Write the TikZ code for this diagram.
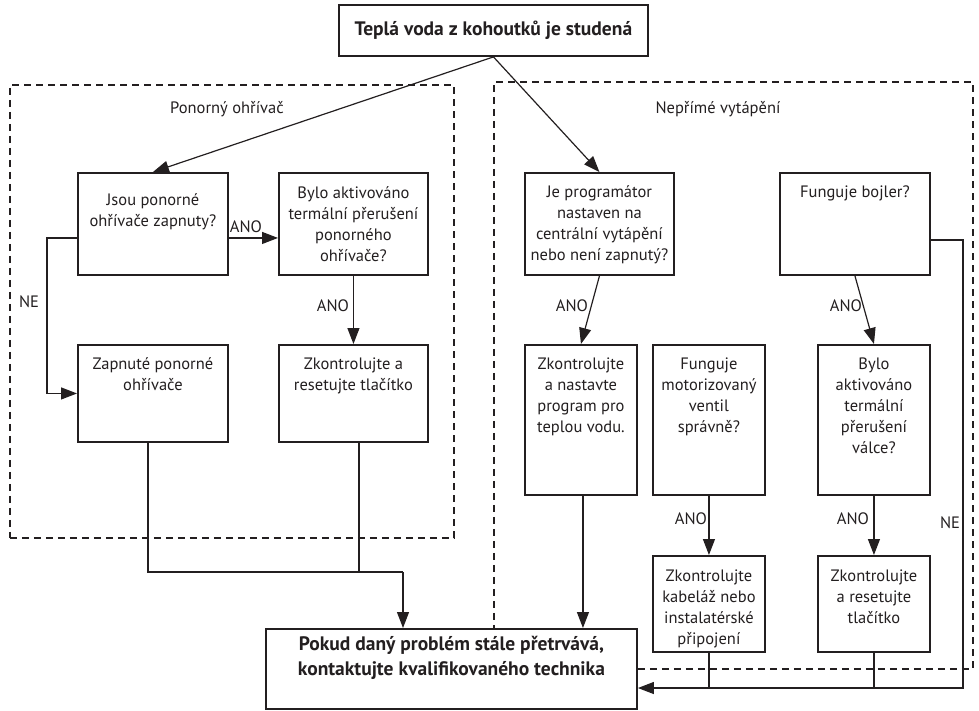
\documentclass[tikz,border=0pt]{standalone}
\usepackage{fontspec}
\setmainfont{PT Sans}
\usetikzlibrary{arrows.meta}
\definecolor{ink}{HTML}{231F20}
\newcommand\regfont{\fontsize{16.5}{21}\selectfont}
\newcommand\headfont{\fontsize{19.5}{25}\selectfont\bfseries}
\newcommand\boxlead{\rule{0pt}{14pt}}
\newcommand\headlead{\rule{0pt}{17pt}}
\begin{document}
\begin{tikzpicture}[x=1pt,y=-1pt,
  every node/.style={text=ink},
  box/.style={draw=ink, line width=1.9pt, fill=white, inner sep=0pt, anchor=north west},
  group/.style={draw=ink, line width=1.7pt, dash pattern=on 7pt off 5pt, inner sep=0pt, anchor=north west},
  txt/.style={anchor=north, inner sep=0pt, align=center, font=\regfont},
  lbl/.style={anchor=base, inner sep=0pt, font=\regfont},
  line/.style={draw=ink, line width=1.2pt},
  arr/.style={line, -{Triangle[length=16pt,width=12pt]}}
]
\useasboundingbox (0,0) rectangle (979,710);

% dashed groups
\node[group, minimum width=444pt, minimum height=453pt] (gL) at (9,84) {};
\node[group, minimum width=479pt, minimum height=587pt] (gR) at (493,81) {};
\node[lbl] (gLt) at (227,113) {Ponorný ohřívač};
\node[lbl] (gRt) at (718,113) {Nepřímé vytápění};

% boxes
\node[box, minimum width=309pt, minimum height=51pt, font=\headfont] (T) at (338,4) {Teplá voda z kohoutků je studená};
\node[box, minimum width=150pt, minimum height=102pt] (A) at (77,172) {};
\node[box, minimum width=149pt, minimum height=102pt] (B) at (278,172) {};
\node[box, minimum width=150pt, minimum height=97pt] (C) at (77,344) {};
\node[box, minimum width=149pt, minimum height=97pt] (D) at (278,344) {};
\node[box, minimum width=149pt, minimum height=102pt] (E) at (524,172) {};
\node[box, minimum width=150pt, minimum height=102pt] (F) at (779,172) {};
\node[box, minimum width=112pt, minimum height=150pt] (G) at (524,344) {};
\node[box, minimum width=112pt, minimum height=150pt] (H) at (652,344) {};
\node[box, minimum width=112pt, minimum height=150pt] (I) at (817,344) {};
\node[box, minimum width=112pt, minimum height=96pt] (J) at (652,555) {};
\node[box, minimum width=112pt, minimum height=96pt] (K) at (817,555) {};
\node[box, minimum width=371pt, minimum height=80pt] (Fin) at (265,628) {};

% box texts
\node[txt] (At) at ([yshift=-19pt]A.north) {\boxlead Jsou ponorné\\ohřívače zapnuty?};
\node[txt] (Bt) at ([yshift=-12pt]B.north) {\boxlead Bylo aktivováno\\termální přerušení\\ponorného\\ohřívače?};
\node[txt] (Ct) at ([yshift=-11pt]C.north) {\boxlead Zapnuté ponorné\\ohřívače};
\node[txt] (Dt) at ([yshift=-11pt]D.north) {\boxlead Zkontrolujte a\\resetujte tlačítko};
\node[txt] (Et) at ([yshift=-11pt]E.north) {\boxlead Je programátor\\nastaven na\\centrální vytápění\\nebo není zapnutý?};
\node[txt] (Ft) at ([yshift=-11pt]F.north) {\boxlead Funguje bojler?};
\node[txt] (Gt) at ([yshift=-11pt]G.north) {\boxlead Zkontrolujte\\a nastavte\\program pro\\teplou vodu.};
\node[txt] (Ht) at ([yshift=-11pt]H.north) {\boxlead Funguje\\motorizovaný\\ventil\\správně?};
\node[txt] (It) at ([yshift=-11pt]I.north) {\boxlead Bylo\\aktivováno\\termální\\přerušení\\válce?};
\node[txt] (Jt) at ([yshift=-12pt]J.north) {\boxlead Zkontrolujte\\kabeláž nebo\\instalatérské\\připojení};
\node[txt] (Kt) at ([yshift=-12pt]K.north) {\boxlead Zkontrolujte\\a resetujte\\tlačítko};
\node[txt, font=\headfont] (Fint) at ([yshift=-5pt]Fin.north) {\headlead Pokud daný problém stále přetrvává,\\kontaktujte kvalifikovaného technika};

% connectors
\draw[arr] (T.south) -- (A.north);
\draw[arr] (T.south) -- (E.north);
\draw[arr] ([yshift=-14pt]A.east) -- ([yshift=-14pt]B.west);
\draw[arr] ([yshift=-14pt]A.west) -- ++(-30,0) |- (C.west);
\draw[arr] (B.south) -- (D.north);
\coordinate (m) at (403,572);
\draw[line] ([xshift=-5pt]C.south) |- (m);
\draw[line] ([xshift=5.5pt]D.south) -- ([xshift=5.5pt]D.south |- m);
\draw[arr] (m) -- (m |- Fin.north);
\draw[arr] (E.south) -- (G.north);
\draw[arr] (F.south) -- (I.north);
\draw[arr] ([xshift=2pt]G.south) -- ([xshift=2pt]G.south |- Fin.north);
\draw[arr] (H.south) -- (J.north);
\draw[arr] (I.south) -- (K.north);
\coordinate (ne) at (963,688);
\draw[arr] ([yshift=-16pt]F.east) -| (ne) -- (ne -| Fin.east);
\draw[line] (J.south) -- (J.south |- ne);
\draw[line] (K.south) -- (K.south |- ne);

% connector labels
\node[lbl] (l1) at (246,232) {ANO};
\node[lbl] (l2) at (333,311) {ANO};
\node[lbl] (l3) at (29,307) {NE};
\node[lbl] (l4) at (572,311) {ANO};
\node[lbl] (l5) at (846,311) {ANO};
\node[lbl] (l6) at (691,524) {ANO};
\node[lbl] (l7) at (853,524) {ANO};
\node[lbl] (l8) at (950,528) {NE};
\end{tikzpicture}
\end{document}
